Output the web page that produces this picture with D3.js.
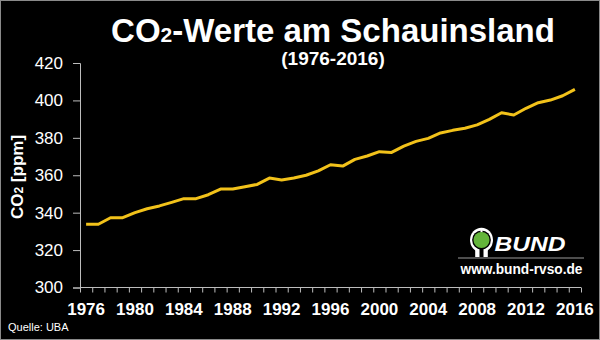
<!DOCTYPE html>
<html><head><meta charset="utf-8">
<script src="https://cdn.jsdelivr.net/npm/d3@7"></script>
<style>html,body{margin:0;padding:0;background:#000;}svg{display:block;}</style>
</head><body>
<script>
const years = d3.range(1976, 2017);
const co2 = [333.8,333.8,337.3,337.3,340.0,342.1,343.6,345.5,347.5,347.5,349.6,352.6,352.6,353.9,355.1,358.5,357.5,358.5,360.0,362.3,365.6,364.9,368.5,370.3,372.6,372.2,375.6,378.1,379.7,382.6,384.0,385.1,386.9,389.9,393.4,392.2,395.8,398.8,400.2,402.5,405.9];
const yTicks = [300,320,340,360,380,400,420];
const xLabelYears = [1976,1980,1984,1988,1992,1996,2000,2004,2008,2012,2016];

const W=600,H=340;
const svg=d3.select("body").append("svg").attr("width",W).attr("height",H);
svg.append("rect").attr("x",0.5).attr("y",0.5).attr("width",W-1).attr("height",H-1).attr("fill","#000").attr("stroke","#8a8a8a");

const x0=80,x1=581,yTop=63,yBot=287.5;
const x=d3.scaleBand().domain(years).range([x0,x1]).padding(0);
const xi=d3.scaleLinear().domain([0,years.length]).range([x0,x1]);
const y=d3.scaleLinear().domain([300,420]).range([yBot,yTop]);
const axisCol="#bdbdbd";
const FF="Liberation Sans, Arial, sans-serif";

// y axis
const ya=svg.append("g").attr("transform",`translate(${x0},0)`)
  .call(d3.axisLeft(y).tickValues(yTicks).tickSize(7).tickPadding(10));
ya.select(".domain").attr("stroke",axisCol);
ya.selectAll(".tick line").attr("stroke",axisCol);
ya.selectAll("text").attr("fill","#fff").style("font-family",FF).style("font-size","17px");

// x axis boundary ticks
const xa=svg.append("g").attr("transform",`translate(0,${yBot})`)
  .call(d3.axisBottom(xi).tickValues(d3.range(0,years.length+1)).tickSize(5).tickFormat(""));
xa.select(".domain").attr("stroke",axisCol).attr("d",`M${x0},0H${x1}`);
xa.selectAll(".tick line").attr("stroke",axisCol);

// x labels
const xl=svg.append("g").attr("transform",`translate(0,${yBot})`)
  .call(d3.axisBottom(x).tickValues(xLabelYears).tickSize(0).tickPadding(0));
xl.select(".domain").remove();
xl.selectAll("text").attr("fill","#fff").attr("dy",null).attr("y",27)
  .style("font-family",FF).style("font-size","17px").style("font-weight","bold");

// line
const line=d3.line().x((d,i)=>x(years[i])+x.bandwidth()/2).y(d=>y(d));
svg.append("path").datum(co2).attr("d",line).attr("fill","none")
  .attr("stroke","#f2c21a").attr("stroke-width",3).attr("stroke-linejoin","round");

// title
const t=svg.append("text").attr("x",333).attr("y",42).attr("text-anchor","middle")
  .attr("fill","#fff").style("font-family",FF)
  .style("font-weight","bold").style("font-size","33px");
t.append("tspan").text("CO");
t.append("tspan").style("font-size","21px").text("2");
t.append("tspan").text("-Werte am Schauinsland");
svg.append("text").attr("x",333).attr("y",65).attr("text-anchor","middle").attr("fill","#fff")
  .style("font-family",FF).style("font-weight","bold").style("font-size","19px")
  .text("(1976-2016)");

// y label
const yl=svg.append("text").attr("transform","translate(23,177) rotate(-90)").attr("text-anchor","middle")
  .attr("fill","#fff").style("font-family",FF).style("font-weight","bold").style("font-size","17px");
yl.append("tspan").text("CO");
yl.append("tspan").style("font-size","12px").text("2");
yl.append("tspan").text(" [ppm]");

// source
svg.append("text").attr("x",8).attr("y",331).attr("fill","#fff")
  .style("font-family",FF).style("font-size","11px").text("Quelle: UBA");

// BUND logo
const lg=svg.append("g");
const cx=481.5,cy=240;
lg.append("rect").attr("x",cx-6.3).attr("y",cy+7).attr("width",12.6).attr("height",10).attr("fill","#fff");
lg.append("ellipse").attr("cx",cx).attr("cy",cy).attr("rx",11.5).attr("ry",12.3).attr("fill","#fff");
lg.append("circle").attr("cx",cx).attr("cy",cy).attr("r",9.4).attr("fill","#000");
lg.append("rect").attr("x",cx-2).attr("y",cy+7).attr("width",4).attr("height",10).attr("fill","#000");
lg.append("rect").attr("x",cx-1).attr("y",cy-11).attr("width",2).attr("height",3.5).attr("fill","#fff");
lg.append("circle").attr("cx",cx).attr("cy",cy).attr("r",8).attr("fill","#63b43a");
lg.append("text").attr("x",494.5).attr("y",251).attr("fill","#fff")
  .attr("textLength",71).attr("lengthAdjust","spacingAndGlyphs")
  .style("font-family",FF).style("font-weight","bold").style("font-style","italic").style("font-size","21px")
  .text("BUND");
lg.append("line").attr("x1",458).attr("x2",584).attr("y1",258).attr("y2",258).attr("stroke","#9a9a9a").attr("stroke-width",1);
lg.append("text").attr("x",521.5).attr("y",274.3).attr("text-anchor","middle").attr("fill","#fff")
  .attr("textLength",122).attr("lengthAdjust","spacingAndGlyphs")
  .style("font-family",FF).style("font-weight","bold").style("font-size","14px")
  .text("www.bund-rvso.de");
</script>
</body></html>
